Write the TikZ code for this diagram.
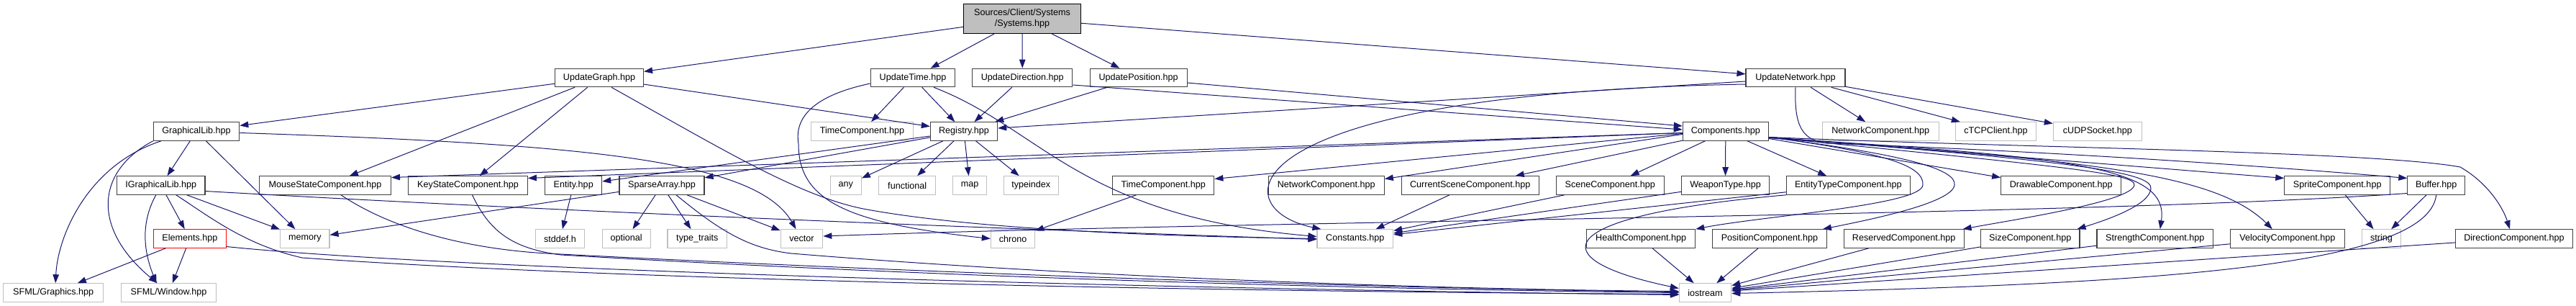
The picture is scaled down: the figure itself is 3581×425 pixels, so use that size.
\documentclass[tikz,border=0pt]{standalone}
\usepackage{fontspec}
\setmainfont{Liberation Sans}
\usetikzlibrary{arrows.meta}
\definecolor{edgec}{HTML}{191970}
\definecolor{gqf}{HTML}{404040}
\definecolor{gsf}{HTML}{BFBFBF}
\tikzset{
  nb/.style={rectangle, inner sep=0pt, minimum height=25.5pt, line width=1.1pt, text=black, font=\fontsize{12.6}{15.3}\selectfont},
  doc/.style={nb, draw=gqf},
  ext/.style={nb, draw=gsf},
  bad/.style={nb, draw=red},
  root/.style={nb, draw=black, fill=gsf, align=center, minimum height=41pt},
  e/.style={draw=edgec, line width=1pt, -{Triangle[length=12pt,width=8.5pt]}},
}
\begin{document}
\begin{tikzpicture}[x=1pt,y=-1pt]
\useasboundingbox (0,0) rectangle (3581,425);
% row 0
\node[root, minimum width=163pt] (sys) at (1421,26) {Sources/Client/Systems\\/Systems.hpp};
% row 1
\node[doc, minimum width=123pt] (ug) at (833,108) {UpdateGraph.hpp};
\node[doc, minimum width=117.5pt] (ut) at (1269,108) {UpdateTime.hpp};
\node[doc, minimum width=139pt] (ud) at (1421.3,108) {UpdateDirection.hpp};
\node[doc, minimum width=135pt] (up) at (1582.6,108) {UpdatePosition.hpp};
\node[doc, minimum width=138pt] (un) at (2496,108) {UpdateNetwork.hpp};
% row 2
\node[doc, minimum width=119.5pt] (gl) at (273,182.5) {GraphicalLib.hpp};
\node[ext, minimum width=141.6pt] (tcg) at (1198.5,182.5) {TimeComponent.hpp};
\node[doc, minimum width=93.3pt] (reg) at (1340,182.5) {Registry.hpp};
\node[doc, minimum width=119pt] (comp) at (2398.8,182.5) {Components.hpp};
\node[ext, minimum width=162pt] (ncg) at (2614.3,182.5) {NetworkComponent.hpp};
\node[ext, minimum width=112.3pt] (tcp) at (2774.5,182.5) {cTCPClient.hpp};
\node[ext, minimum width=123pt] (udp) at (2915.8,182.5) {cUDPSocket.hpp};
% row 3
\node[doc, minimum width=122.4pt] (igl) at (223.8,257.5) {IGraphicalLib.hpp};
\node[doc, minimum width=183pt] (ms) at (452,257.5) {MouseStateComponent.hpp};
\node[doc, minimum width=165.7pt] (ks) at (650.5,257.5) {KeyStateComponent.hpp};
\node[doc, minimum width=79pt] (ent) at (797.2,257.5) {Entity.hpp};
\node[doc, minimum width=118pt] (sa) at (920,257.5) {SparseArray.hpp};
\node[ext, minimum width=43pt] (any) at (1175.8,257.5) {any};
\node[ext, minimum width=79pt] (fun) at (1261.2,257.5) {functional};
\node[ext, minimum width=47.3pt] (map) at (1348,257.5) {map};
\node[ext, minimum width=76.3pt] (tix) at (1433.2,257.5) {typeindex};
\node[doc, minimum width=141.3pt] (tc) at (1617.2,257.5) {TimeComponent.hpp};
\node[doc, minimum width=161pt] (nc) at (1843.8,257.5) {NetworkComponent.hpp};
\node[doc, minimum width=191pt] (csc) at (2043.7,257.5) {CurrentSceneComponent.hpp};
\node[doc, minimum width=150pt] (sc) at (2238.3,257.5) {SceneComponent.hpp};
\node[doc, minimum width=121.7pt] (wt) at (2398.5,257.5) {WeaponType.hpp};
\node[doc, minimum width=172pt] (etc) at (2569.3,257.5) {EntityTypeComponent.hpp};
\node[doc, minimum width=167pt] (dc) at (2865.2,257.5) {DrawableComponent.hpp};
\node[doc, minimum width=146.8pt] (spc) at (3249.2,257.5) {SpriteComponent.hpp};
\node[doc, minimum width=79.7pt] (buf) at (3386.7,257.5) {Buffer.hpp};
% row 4
\node[bad, minimum width=100.7pt] (el) at (263.9,331.5) {Elements.hpp};
\node[ext, minimum width=68.4pt] (mem) at (423.8,331.5) {memory};
\node[ext, minimum width=68.3pt] (std) at (778.5,331.5) {stddef.h};
\node[ext, minimum width=66.7pt] (opt) at (870.7,331.5) {optional};
\node[ext, minimum width=82.6pt] (tt) at (969.3,331.5) {type\_traits};
\node[ext, minimum width=58.6pt] (vec) at (1114.5,331.5) {vector};
\node[ext, minimum width=61.3pt] (chr) at (1408,331.5) {chrono};
\node[ext, minimum width=105.7pt] (cst) at (1883.8,331.5) {Constants.hpp};
\node[doc, minimum width=151pt] (hc) at (2281.2,331.5) {HealthComponent.hpp};
\node[doc, minimum width=158.7pt] (pc) at (2460,331.5) {PositionComponent.hpp};
\node[doc, minimum width=166.7pt] (rc) at (2646.7,331.5) {ReservedComponent.hpp};
\node[doc, minimum width=137.3pt] (szc) at (2822.3,331.5) {SizeComponent.hpp};
\node[doc, minimum width=161.7pt] (stc) at (2995.8,331.5) {StrengthComponent.hpp};
\node[doc, minimum width=158.5pt] (vc) at (3179.8,331.5) {VelocityComponent.hpp};
\node[ext, minimum width=54.7pt] (str) at (3310.5,331.5) {string};
\node[doc, minimum width=163.4pt] (dic) at (3495,331.5) {DirectionComponent.hpp};
% row 5
\node[ext, minimum width=139.3pt] (sfg) at (74.2,406.5) {SFML/Graphics.hpp};
\node[ext, minimum width=132.4pt] (sfw) at (234.6,406.5) {SFML/Window.hpp};
\node[ext, minimum width=72.3pt] (ios) at (2370.5,406.5) {iostream};

% ---- edges ----
\draw[e] (sys) -- (ug);
\draw[e] (sys) -- (ut);
\draw[e] (sys) -- (ud);
\draw[e] (sys) -- (up);
\draw[e] (sys) -- (un);

\draw[e] (ug) -- (gl);
\draw[e] (ug) -- (ms);
\draw[e] (ug) -- (ks);
\draw[e] (ug) -- (reg);
\draw[e] ([xshift=17pt]ug.south) .. controls (1000,205) and (1110,272) .. (1200,290) .. controls (1350,318) and (1600,328) .. (cst.west);

\draw[e] (ut) -- (tcg);
\draw[e] (ut) -- (reg);
\draw[e] ([xshift=29pt]ut.south) .. controls (1450,180) and (1500,300) .. ([yshift=3pt]cst.west);
\draw[e] ([yshift=-8pt]ut.west) .. controls (1120,135) and (1105,170) .. (1110,200) .. controls (1110,280) and (1180,310) .. (chr.west);

\draw[e] (ud) -- (reg);
\draw[e] ([yshift=-10pt]ud.east) -- ([yshift=2.5pt]comp.west);
\draw[e] (up) -- (reg);
\draw[e] ([yshift=-7pt]up.east) -- ([yshift=7.5pt]comp.west);

\draw[e] ([yshift=-5pt]un.west) -- ([yshift=4.5pt]reg.east);
\draw[e] ([yshift=-9pt]un.west) .. controls (1700,130) and (1700,290) .. ([xshift=6pt]cst.north west);
\draw[e] (un) -- (ncg);
\draw[e] (un) -- (tcp);
\draw[e] (un) -- (udp);
\draw[e] (un.south) .. controls (2494,175) and (2505,195) .. (2540,199) .. controls (2900,212) and (3200,235) .. ([yshift=10pt]buf.west);

\draw[e] (gl) -- (igl);
\draw[e] (gl) -- (mem);
\draw[e] ([xshift=-49pt]gl.south) .. controls (120,230) and (80,330) .. ([xshift=3pt]sfg.north);
\draw[e] (gl.south west) .. controls (130,240) and (130,320) .. ([xshift=-16pt]sfw.north);
\draw[e] ([yshift=-2pt]gl.east) .. controls (800,200) and (1050,220) .. ([xshift=-8pt]vec.north);

\draw[e] (igl) -- (el);
\draw[e] (igl) -- (mem);
\draw[e] ([xshift=-7pt]igl.south) .. controls (195,310) and (200,350) .. ([xshift=-17pt]sfw.north);
\draw[e] ([yshift=-8pt]igl.east) .. controls (800,295) and (1400,318) .. ([yshift=-1pt]cst.west);
\draw[e] ([xshift=21pt]igl.south) .. controls (290,300) and (340,340) .. (420,358) .. controls (900,392) and (1800,406) .. ([yshift=-2pt]ios.west);

\draw[e] (el) -- (sfg);
\draw[e] (el) -- (sfw);
\draw[e] ([yshift=-11pt]el.east) .. controls (600,372) and (1500,400) .. ([yshift=-3pt]ios.west);

\draw[e] ([xshift=22pt]ms.south) .. controls (540,315) and (640,345) .. (760,352) .. controls (1300,380) and (1900,400) .. ([yshift=1pt]ios.west);
\draw[e] ([xshift=6pt]ks.south) .. controls (680,320) and (710,345) .. (780,354) .. controls (1300,385) and (1900,402) .. (ios.west);

\draw[e] (reg) -- (any);
\draw[e] (reg) -- (fun);
\draw[e] (reg) -- (map);
\draw[e] (reg) -- (tix);
\draw[e] (reg) -- (ent);
\draw[e] (reg) -- (sa);

\draw[e] (ent) -- (std);
\draw[e] (sa) -- (opt);
\draw[e] (sa) -- (tt);
\draw[e] (sa) -- (vec);
\draw[e] (sa) -- (mem);
\draw[e] ([xshift=20pt]sa.south) .. controls (1000,320) and (1040,345) .. (1100,352) .. controls (1500,385) and (2000,402) .. ([yshift=2pt]ios.west);

\draw[e] (tc) -- (chr);

\draw[e] ([yshift=-2pt]comp.west) -- ([yshift=11pt]ms.east);
\draw[e] ([yshift=-2pt]comp.west) -- ([yshift=10pt]ks.east);
\draw[e] ([yshift=-3pt]comp.west) -- ([yshift=9pt]tc.east);
\draw[e] ([yshift=-4pt]comp.west) -- ([yshift=9pt]nc.east);
\draw[e] (comp) -- (csc);
\draw[e] (comp) -- (sc);
\draw[e] (comp) -- (wt);
\draw[e] (comp) -- (etc);
\draw[e] ([yshift=-10pt]comp.east) -- ([yshift=11pt]dc.west);
\draw[e] ([yshift=-8pt]comp.east) -- ([yshift=10pt]spc.west);
\draw[e] ([yshift=-8pt]comp.east) .. controls (2620,212) and (2675,230) .. (2673,257) .. controls (2671,285) and (2450,300) .. (hc.north east);
\draw[e] ([yshift=-8pt]comp.east) .. controls (2650,215) and (2720,235) .. (2717,257) .. controls (2714,282) and (2600,305) .. ([xshift=-6pt]pc.north east);
\draw[e] ([yshift=-8pt]comp.east) .. controls (2850,230) and (2970,240) .. (2967,257) .. controls (2964,280) and (2800,305) .. ([xshift=-2pt]rc.north east);
\draw[e] ([yshift=-8pt]comp.east) .. controls (2900,225) and (2992,240) .. (2990,262) .. controls (2988,285) and (2930,305) .. ([xshift=-4pt]szc.north east);
\draw[e] ([yshift=-9pt]comp.east) .. controls (2900,218) and (3015,235) .. ([xshift=7pt]stc.north);
\draw[e] ([yshift=-9pt]comp.east) .. controls (2900,222) and (3080,240) .. ([xshift=-21pt]vc.north);
\draw[e] ([yshift=-8pt]comp.east) .. controls (2800,205) and (3300,210) .. (3420,232) .. controls (3460,255) and (3480,290) .. ([xshift=-6pt]dic.north);

\draw[e] (csc) -- (cst);
\draw[e] (sc) -- (cst);
\draw[e] (wt) -- (cst);
\draw[e] (etc) -- (cst);
\draw[e] (etc.south west) .. controls (2150,300) and (2140,360) .. ([yshift=6pt]ios.west);

\draw[e] (hc) -- (ios);
\draw[e] (pc) -- (ios);
\draw[e] (rc) -- (ios);
\draw[e] (szc) -- (ios);
\draw[e] (stc) -- (ios);
\draw[e] (vc) -- (ios);
\draw[e] (dic) -- (ios);

\draw[e] (spc) -- (str);
\draw[e] (buf) -- (str);
\draw[e] (buf.south) .. controls (3375,370) and (3000,395) .. ([yshift=-1pt]ios.east);
\draw[e] ([yshift=-11pt]buf.west) .. controls (2900,300) and (1800,305) .. ([yshift=3.5pt]vec.east);
\end{tikzpicture}
\end{document}
